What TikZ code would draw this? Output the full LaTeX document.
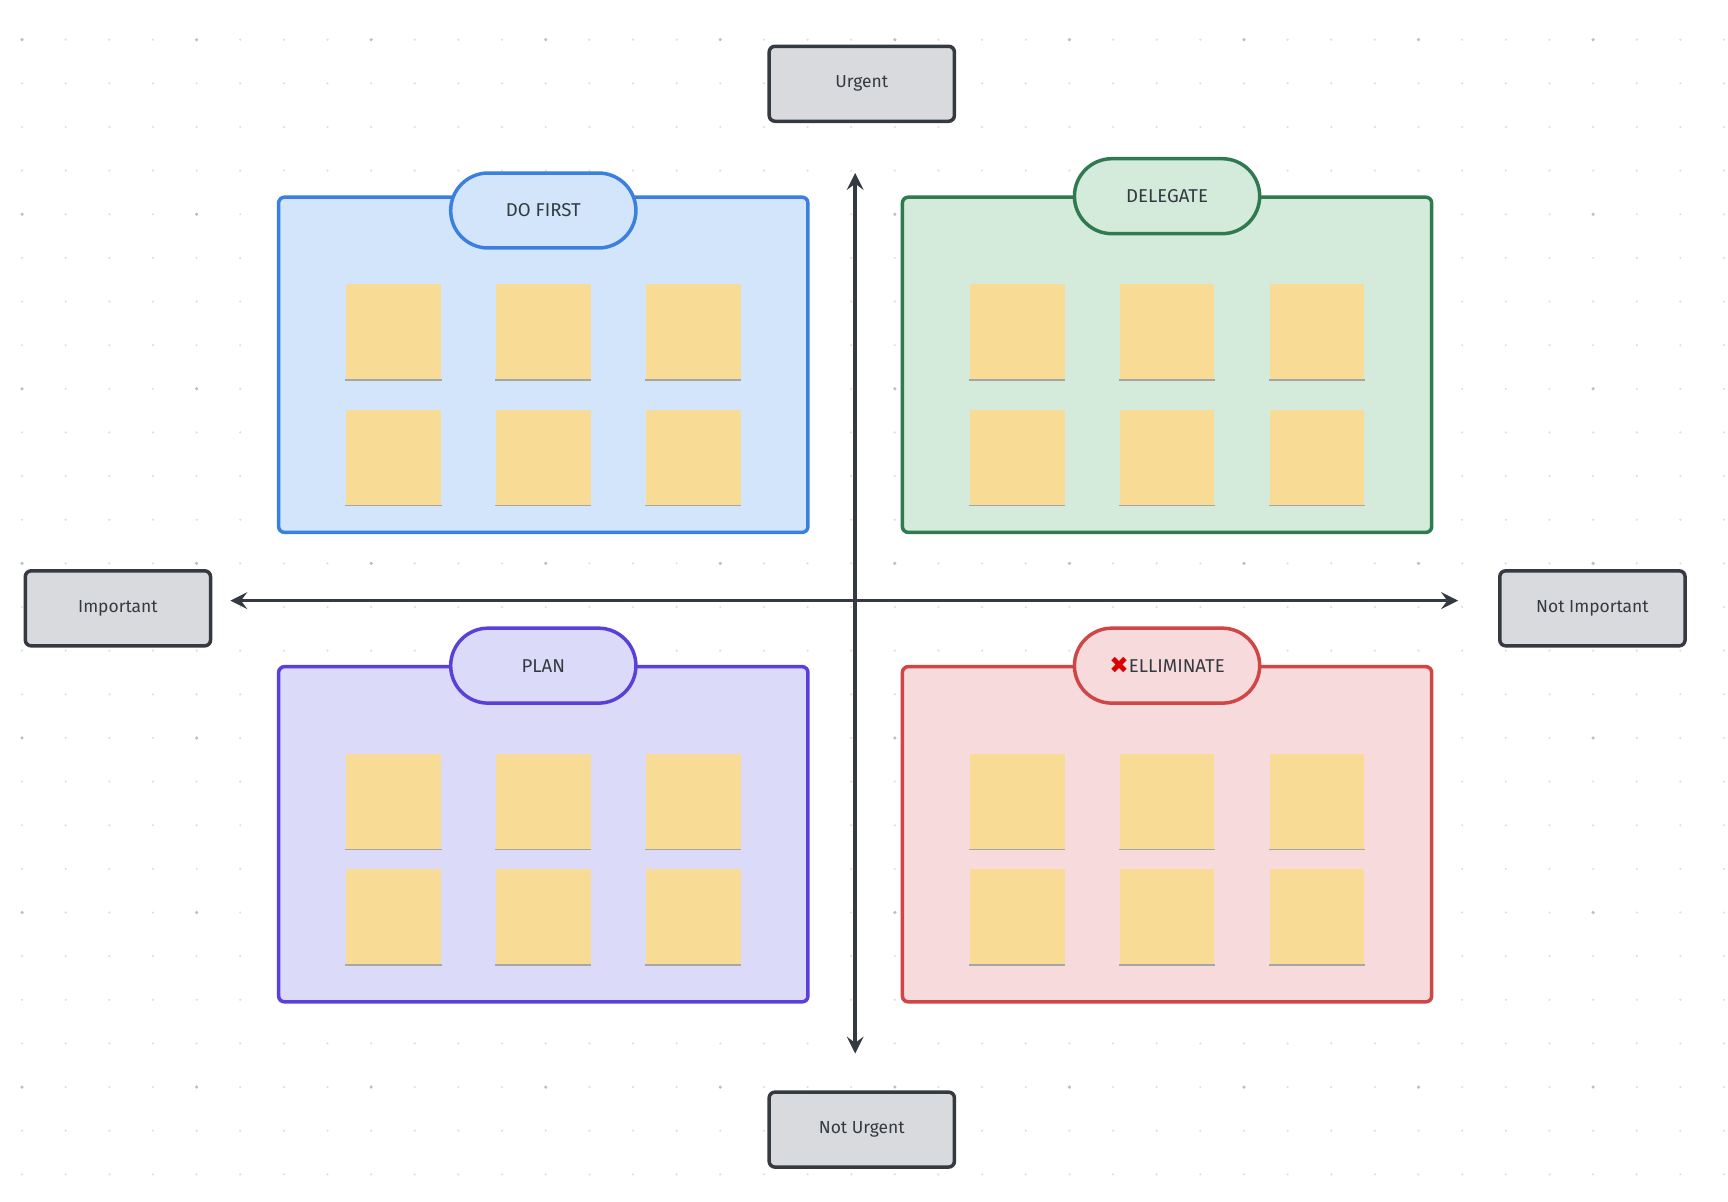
\documentclass[tikz,border=0pt]{standalone}
\usepackage{fontspec}
\setmainfont{Fira Sans}
\newfontfamily\symfont{DejaVu Sans}
\definecolor{axisgray}{HTML}{343A40}
\definecolor{labelgray}{HTML}{D9DADD}
\definecolor{bluefill}{HTML}{D2E5FB}
\definecolor{bluedraw}{HTML}{3B7FE0}
\definecolor{greenfill}{HTML}{D4EADA}
\definecolor{greendraw}{HTML}{2F7A50}
\definecolor{purplefill}{HTML}{DCDAF9}
\definecolor{purpledraw}{HTML}{5B3FD9}
\definecolor{redfill}{HTML}{F7DADB}
\definecolor{reddraw}{HTML}{D04545}
\definecolor{stickyfill}{HTML}{F8DC95}

\tikzstyle{axislabel} = [draw=axisgray, fill=labelgray, line width=0.9pt, rounded corners=1.5pt,
    minimum width=1.68cm, minimum height=0.68cm, font=\fontsize{4.5}{5}\selectfont, text=axisgray]
\tikzstyle{quad} = [draw, line width=0.9pt, rounded corners=1.5pt,
    minimum width=4.8cm, minimum height=3.04cm]
\tikzstyle{pill} = [draw, line width=0.9pt, rectangle, rounded corners=0.34cm,
    minimum width=1.68cm, minimum height=0.68cm,
    font=\fontsize{4.8}{5}\selectfont, text=axisgray]
\tikzstyle{sticky} = [fill=stickyfill, minimum size=0.86cm, inner sep=0pt]
\tikzstyle{axis} = [draw=axisgray, line width=0.9pt, <->, >=stealth]

\begin{document}
\begin{tikzpicture}[x=0.01cm, y=-0.01cm]
      \useasboundingbox (0,0) rectangle (1568,1090);
      \fill[white] (0,0) rectangle (1568,1090);
      % dotted canvas
      \foreach \i in {0,...,39} {
        \foreach \j in {0,...,27} {
          \fill[gray!25] (20+39.6*\i,36+39.6*\j) circle (1.1);
        }
      }
      \foreach \i in {0,...,9} {
        \foreach \j in {0,...,6} {
          \fill[gray!50] (20+158.4*\i,36+158.4*\j) circle (1.6);
        }
      }

      % axes
      \node [coordinate] (top) at (776,157) {};
      \node [coordinate] (bottom) at (776,956) {};
      \node [coordinate] (left) at (209,545) {};
      \node [coordinate] (right) at (1323,545) {};
      \draw [axis] (top) -- (bottom);
      \draw [axis] (left) -- (right);

      \node [axislabel] (urgent) at (782,76) {Urgent};
      \node [axislabel] (noturgent) at (782,1025) {Not Urgent};
      \node [axislabel] (important) at (107,552) {Important};
      \node [axislabel] (notimportant) at (1445,552) {Not Important};

      % quadrants
      \node [quad, draw=bluedraw, fill=bluefill] (dofirst) at (493,331) {};
      \node [quad, draw=greendraw, fill=greenfill] (delegate) at (1059,331) {};
      \node [quad, draw=purpledraw, fill=purplefill] (plan) at (493,757) {};
      \node [quad, draw=reddraw, fill=redfill] (eliminate) at (1059,757) {};

      \node [pill, draw=bluedraw, fill=bluefill] (dofirstpill) at (493,191) {DO FIRST};
      \node [pill, draw=greendraw, fill=greenfill] (delegatepill) at (1059,178) {DELEGATE};
      \node [pill, draw=purpledraw, fill=purplefill] (planpill) at (493,604) {PLAN};
      \node [pill, draw=reddraw, fill=redfill] (eliminatepill) at (1059,604)
            {\raisebox{-0.3pt}{\symfont\color{red!85!black}\fontsize{6}{6}\selectfont ✖}ELLIMINATE};

      % sticky notes
      \foreach \qx/\qy/\ry in {357/301/415, 923/301/415, 357/727/832, 923/727/832} {
        \foreach \c in {0,1,2} {
          \foreach \r in {\qy,\ry} {
            \node [sticky] (s) at (\qx+136*\c,\r) {};
            \draw [gray!70, line width=0.4pt] (s.south west) -- (s.south east);
          }
        }
      }
\end{tikzpicture}
\end{document}
